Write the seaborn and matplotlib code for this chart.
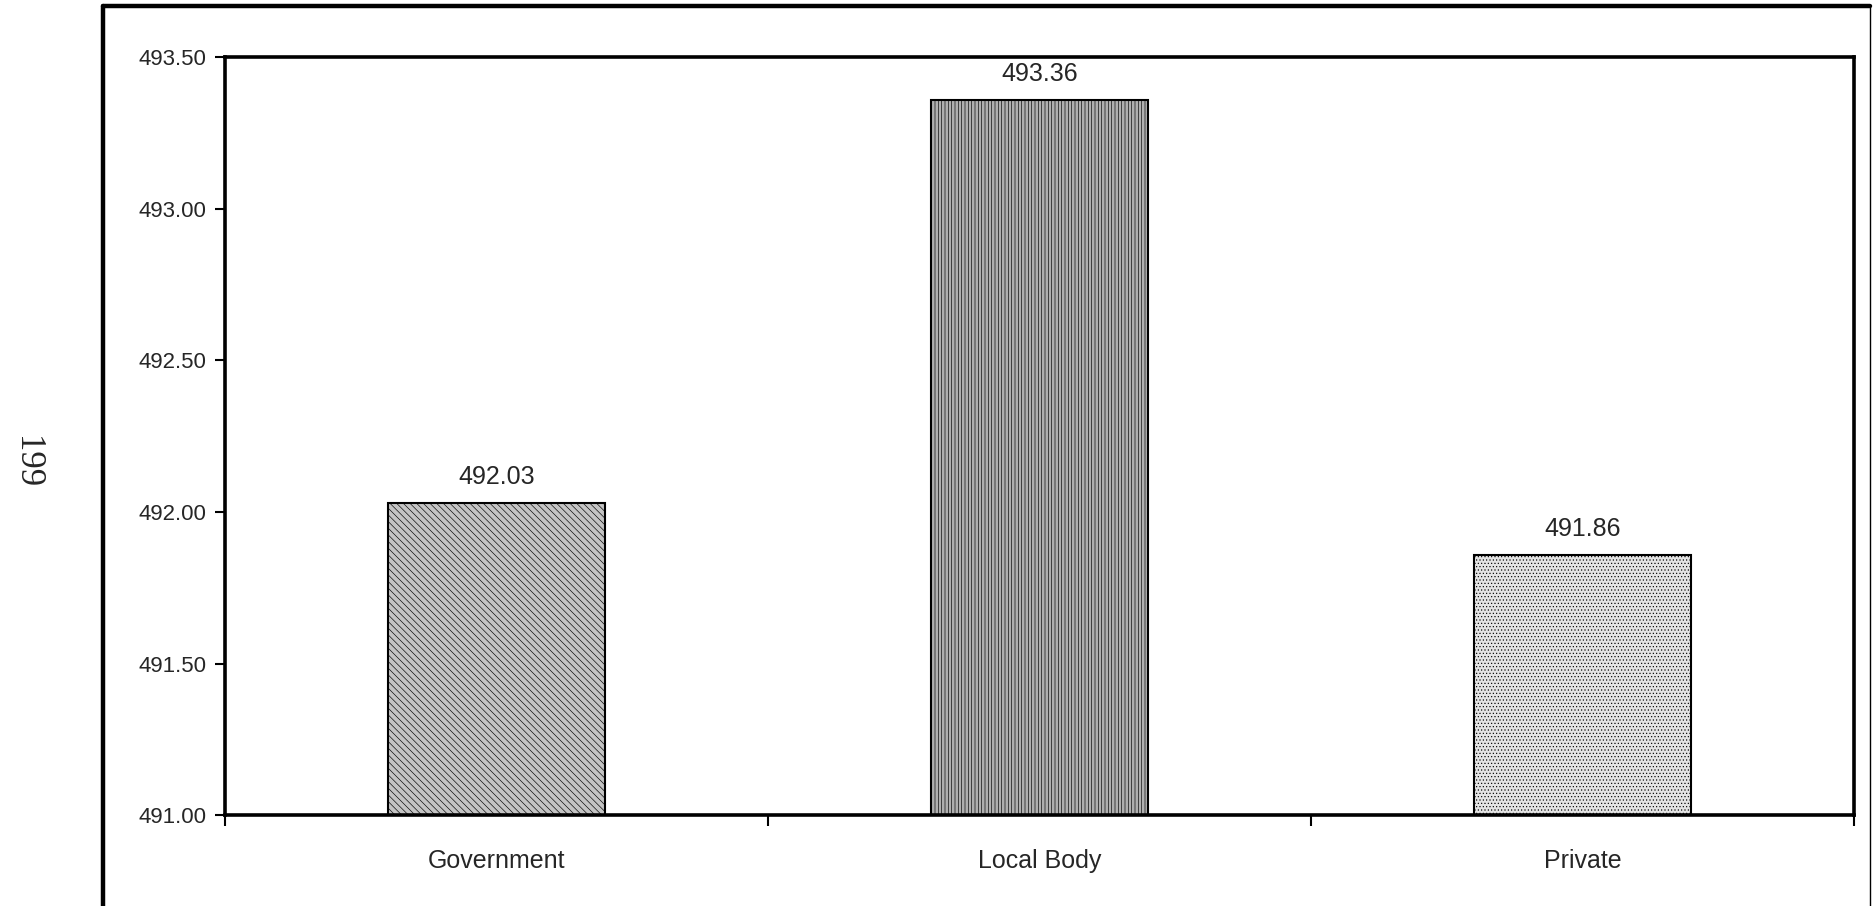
import numpy as np
import pandas as pd
import matplotlib
matplotlib.use("Agg")
import matplotlib.pyplot as plt
import seaborn as sns
from matplotlib.lines import Line2D
from matplotlib.ticker import FormatStrFormatter

# data
categories = ["Government", "Local Body", "Private"]
scores = [492.03, 493.36, 491.86]
bar_colors = ["#c4c4c4", "#b0b0b0", "#e4e4e4"]
bar_hatches = ["\\\\\\\\\\", "|||||", "....."]

df = pd.DataFrame({"type": categories, "score": scores})

sns.set_style("white")
plt.rcParams["font.family"] = ["Liberation Sans", "DejaVu Sans"]
plt.rcParams["hatch.linewidth"] = 0.45

fig = plt.figure(figsize=(18.73, 9.06), dpi=100)
ax = fig.add_axes([0.120, 0.100, 0.870, 0.837])

sns.barplot(data=df, x="type", y="score", hue="type", palette=bar_colors,
            width=0.4, edgecolor="black", linewidth=1.5, legend=False, ax=ax)

for patch, h in zip(ax.patches, bar_hatches):
    patch.set_hatch(h)

# value labels
for i, v in enumerate(scores):
    ax.text(i, v + 0.045, f"{v:.2f}", ha="center", va="bottom", fontsize=18)

ax.set_ylim(491.0, 493.5)
ax.set_yticks(np.arange(491.0, 493.51, 0.5))
ax.yaxis.set_major_formatter(FormatStrFormatter("%.2f"))
ax.set_xlim(-0.5, 2.5)
ax.set_xticks([-0.5, 0.5, 1.5, 2.5], minor=False)
ax.set_xticklabels([])
ax.set_xticks(range(3), minor=True)
ax.set_xticklabels(categories, minor=True)
ax.tick_params(axis="x", which="minor", bottom=False, length=0, pad=24, labelsize=18)
ax.tick_params(axis="x", which="major", bottom=True, length=8, width=1.5,
               direction="out", color="black")
ax.tick_params(axis="y", left=True, length=7, width=1.5, direction="out", pad=6,
               labelsize=16, color="black")
ax.set_xlabel("")
ax.set_ylabel("")

for s in ax.spines.values():
    s.set_visible(True)
    s.set_linewidth(2.6)
    s.set_color("black")

# outer chart frame
fig.add_artist(Line2D([0.055, 0.055], [0.0, 0.9935], transform=fig.transFigure,
                      color="black", linewidth=3.2))
fig.add_artist(Line2D([0.055, 0.9985], [0.9935, 0.9935], transform=fig.transFigure,
                      color="black", linewidth=3.2))
fig.add_artist(Line2D([0.9985, 0.9985], [0.0, 0.9935], transform=fig.transFigure,
                      color="black", linewidth=1.0))

# page number
fig.text(0.014, 0.49, "199", rotation=-90, ha="center", va="center",
         fontsize=25, family=["Liberation Serif", "DejaVu Serif"])

fig.savefig("out.png", dpi=100)
